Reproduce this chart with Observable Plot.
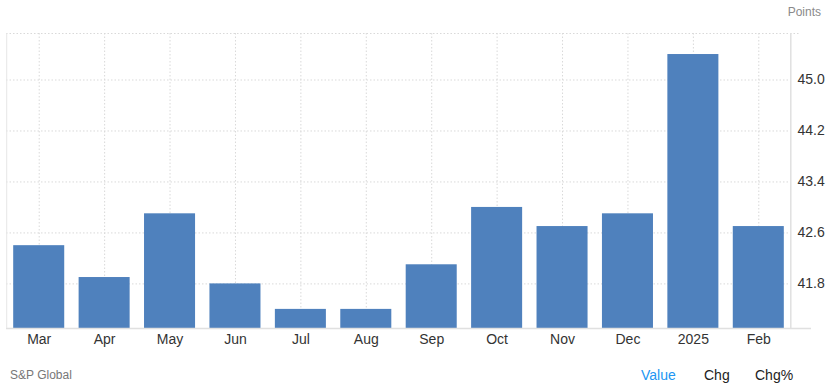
<!DOCTYPE html>
<html>
<head>
<meta charset="utf-8">
<script src="https://cdn.jsdelivr.net/npm/d3@7"></script>
<script src="https://cdn.jsdelivr.net/npm/@observablehq/plot@0.6"></script>
<style>
  html, body { margin: 0; padding: 0; background: #fff; }
  #wrap { position: relative; width: 829px; height: 389px; font-family: "Liberation Sans", Arial, sans-serif; overflow: hidden; }
  #chart svg { display: block; }
  .lbl { position: absolute; white-space: nowrap; line-height: 1; }
</style>
</head>
<body>
<div id="wrap">
  <div id="chart"></div>
  <div class="lbl" style="right:8px; top:6px; font-size:12px; color:#8a8a8a;">Points</div>
  <div class="lbl" style="left:10px; top:369px; font-size:12px; color:#777;">S&amp;P Global</div>
  <div class="lbl" style="left:641px; top:368px; font-size:14px; color:#2196f3;">Value</div>
  <div class="lbl" style="left:704px; top:368px; font-size:14px; color:#222;">Chg</div>
  <div class="lbl" style="left:755px; top:368px; font-size:14px; color:#222;">Chg%</div>
</div>
<script>
const months = ["Mar", "Apr", "May", "Jun", "Jul", "Aug", "Sep", "Oct", "Nov", "Dec", "2025", "Feb"];
const values = [42.4, 41.9, 42.9, 41.8, 41.4, 41.4, 42.1, 43.0, 42.7, 42.9, 45.4, 42.7];
const yTicks = [41.8, 42.6, 43.4, 44.2, 45.0];
const yMin = 41.1;
const yMax = 45.73;

const data = months.map((m, i) => ({month: m, value: values[i]}));

const chart = Plot.plot({
  width: 829,
  height: 350,
  marginLeft: 6,
  marginRight: 38,
  marginTop: 33,
  marginBottom: 22,
  style: {fontFamily: "'Liberation Sans', Arial, sans-serif", fontSize: "14px", color: "#333", background: "#fff"},
  x: {domain: months, paddingInner: 0.22, paddingOuter: 0.11, round: false, axis: null, label: null},
  y: {domain: [yMin, yMax], axis: null, label: null},
  marks: [
    // horizontal dotted gridlines
    Plot.ruleY(yTicks, {stroke: "#d9d9d9", strokeDasharray: "1.5,2", strokeWidth: 1}),
    Plot.ruleY([yMax], {stroke: "#d9d9d9", strokeDasharray: "1.5,2", strokeWidth: 1, insetRight: -9}),
    // vertical dotted gridlines at band centers
    Plot.ruleX(months, {stroke: "#d9d9d9", strokeDasharray: "1.5,2", strokeWidth: 1}),
    // bars
    Plot.barY(data, {x: "month", y1: yMin, y2: "value", fill: "#4f81bd"}),
    // frame lines
    Plot.ruleY([yMin], {stroke: "#e0e0e0", strokeWidth: 1.5, insetRight: -20}),
    Plot.ruleX([months[0]], {stroke: "#e6e6e6", dx: -32.5}),
    Plot.ruleX([months[months.length - 1]], {stroke: "#e0e0e0", strokeWidth: 1.5, dx: 32}),
    Plot.axisX({tickSize: 0, tickPadding: 6, fontSize: 14, fill: "#333", label: null}),
    Plot.axisY({anchor: "right", ticks: yTicks, tickSize: 0, tickPadding: 6, tickFormat: d3.format(".1f"), fontSize: 14, fill: "#333", textAnchor: "start", label: null})
  ]
});
document.getElementById("chart").appendChild(chart);
</script>
</body>
</html>
